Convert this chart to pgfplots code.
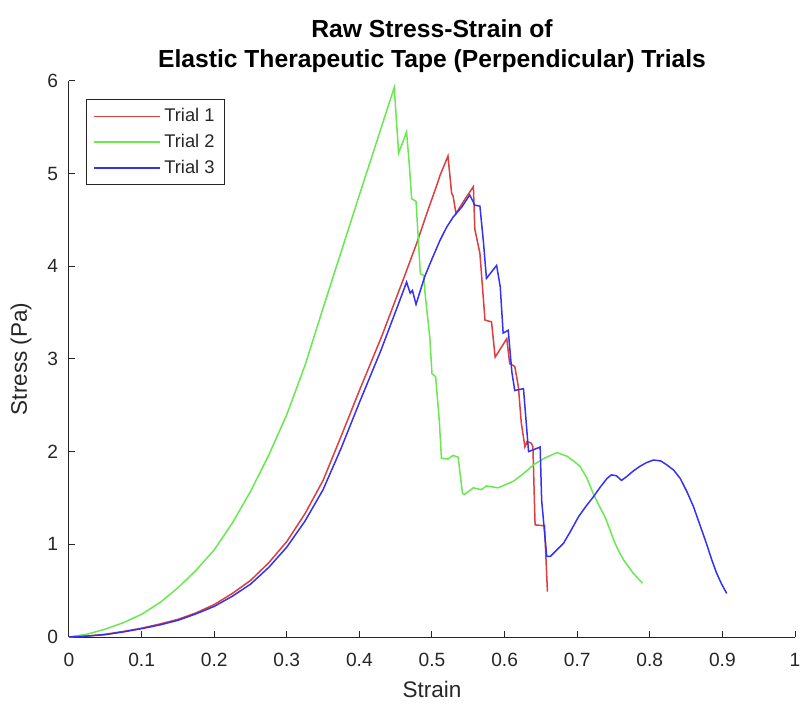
\documentclass[border=0pt]{standalone}
\usepackage{fontspec}
\setmainfont{Liberation Sans}
\usepackage{pgfplots}
\pgfplotsset{compat=1.18}
\usetikzlibrary{calc}
\definecolor{axgray}{RGB}{38,38,38}
\definecolor{tred}{RGB}{222,62,62}
\definecolor{tgreen}{RGB}{105,232,80}
\definecolor{tblue}{RGB}{50,50,240}
\begin{document}
\begin{tikzpicture}
\begin{axis}[
    width=435.6pt, height=333.6pt, scale only axis,
    xmin=0, xmax=1, ymin=0, ymax=6,
    axis x line=bottom, axis y line=left,
    axis line style={axgray, line width=0.6pt, -},
    tick align=inside, major tick length=3.5pt,
    tick style={axgray, line width=0.6pt},
    xtick={0,0.1,0.2,0.3,0.4,0.5,0.6,0.7,0.8,0.9,1},
    xticklabels={0,0.1,0.2,0.3,0.4,0.5,0.6,0.7,0.8,0.9,1},
    ytick={0,1,2,3,4,5,6},
    yticklabels={0,1,2,3,4,5,6},
    ticklabel style={font=\fontsize{11.5}{13}\selectfont, text=axgray},
    xticklabel style={yshift=-6pt},
    yticklabel style={xshift=-3pt},
    xlabel={Strain}, ylabel={Stress (Pa)},
    label style={font=\fontsize{13.5}{15}\selectfont, text=axgray},
    xlabel style={at={(axis description cs:0.5,-0.095)}, anchor=center},
    ylabel style={at={(axis description cs:-0.066,0.5)}, anchor=center},
    title={Raw Stress-Strain of\\Elastic Therapeutic Tape (Perpendicular) Trials},
    title style={align=center, font=\bfseries\fontsize{14.8}{18}\selectfont,
        at={(0.5,1)}, anchor=south, yshift=-4.5pt},
    legend style={at={(0.023,0.968)}, anchor=north west,
        draw=axgray, line width=0.6pt, fill=white,
        font=\fontsize{11}{13}\selectfont, text=axgray,
        inner xsep=4pt, inner ysep=3.5pt, row sep=2pt},
    legend cell align=left,
    legend image code/.code={\draw[#1, line width=0.9pt] (0pt,0pt) -- (40pt,0pt);},
    every axis plot/.append style={line width=0.9pt},
]
\coordinate (sw) at (rel axis cs:0,0);
\coordinate (ne) at (rel axis cs:1,1);

% Trial 1
\addplot[draw=tred] coordinates {
(0,0) (0.025,0.01) (0.05,0.03) (0.075,0.06) (0.1,0.095) (0.125,0.14)
(0.15,0.19) (0.175,0.26) (0.2,0.35) (0.225,0.47) (0.25,0.61) (0.275,0.8)
(0.3,1.03) (0.325,1.33) (0.35,1.69) (0.375,2.17) (0.4,2.66) (0.431,3.25)
(0.46,3.85) (0.479,4.25) (0.495,4.62) (0.505,4.84) (0.511,4.98) (0.522,5.19)
(0.527,4.79) (0.529,4.76) (0.533,4.57) (0.545,4.72)
(0.557,4.86) (0.559,4.40) (0.566,4.14) (0.573,3.42) (0.582,3.40) (0.587,3.02)
(0.595,3.12) (0.603,3.22) (0.607,2.95) (0.614,2.92) (0.619,2.70) (0.623,2.31)
(0.628,2.05) (0.631,2.11) (0.637,2.09) (0.639,2.05) (0.642,1.21) (0.655,1.20)
(0.659,0.49)
};
\addlegendentry{Trial 1}

% Trial 2
\addplot[draw=tgreen] coordinates {
(0,0) (0.025,0.03) (0.05,0.085) (0.075,0.155) (0.1,0.245) (0.125,0.37)
(0.15,0.53) (0.175,0.72) (0.2,0.94) (0.225,1.23) (0.25,1.57) (0.275,1.96)
(0.3,2.40) (0.325,2.93) (0.35,3.55) (0.4,4.77) (0.448,5.93) (0.454,5.22)
(0.465,5.45) (0.469,5.07) (0.472,4.73) (0.478,4.70) (0.484,3.92) (0.489,3.90)
(0.490,3.74) (0.497,3.23) (0.500,2.84) (0.505,2.81) (0.510,2.34) (0.513,1.93)
(0.522,1.92) (0.529,1.96) (0.536,1.94) (0.542,1.55) (0.545,1.54) (0.557,1.61)
(0.568,1.59) (0.575,1.63) (0.591,1.61) (0.612,1.68) (0.627,1.77) (0.640,1.86)
(0.655,1.93) (0.672,1.99) (0.686,1.95) (0.695,1.90) (0.704,1.84) (0.713,1.72)
(0.722,1.55) (0.730,1.42) (0.738,1.30) (0.745,1.16) (0.750,1.05) (0.757,0.93)
(0.764,0.83) (0.777,0.69) (0.790,0.58)
};
\addlegendentry{Trial 2}

% Trial 3
\addplot[draw=tblue] coordinates {
(0,0) (0.025,0.01) (0.05,0.025) (0.075,0.055) (0.1,0.09) (0.125,0.13)
(0.15,0.18) (0.175,0.25) (0.2,0.33) (0.225,0.44) (0.25,0.57) (0.275,0.75)
(0.3,0.97) (0.325,1.25) (0.35,1.59) (0.375,2.04) (0.4,2.53) (0.43,3.1)
(0.456,3.64) (0.465,3.83) (0.470,3.71) (0.473,3.74) (0.478,3.59) (0.490,3.89)
(0.5,4.08) (0.511,4.28) (0.52,4.42) (0.529,4.53) (0.541,4.64) (0.552,4.77)
(0.559,4.66) (0.566,4.65) (0.571,4.25) (0.575,3.87) (0.589,4.01) (0.594,3.78)
(0.598,3.28) (0.605,3.31) (0.610,2.86) (0.614,2.66) (0.626,2.68) (0.633,2.00)
(0.649,2.05) (0.651,1.48) (0.658,0.87) (0.663,0.87) (0.672,0.94) (0.681,1.01)
(0.690,1.13) (0.702,1.30) (0.712,1.41) (0.722,1.51) (0.732,1.62) (0.741,1.71)
(0.747,1.75) (0.754,1.74) (0.761,1.69) (0.768,1.73) (0.777,1.79) (0.786,1.84)
(0.795,1.88) (0.805,1.91) (0.815,1.90) (0.823,1.86) (0.833,1.80) (0.842,1.71)
(0.851,1.57) (0.860,1.41) (0.869,1.21) (0.878,1.01) (0.885,0.84) (0.892,0.69)
(0.899,0.57) (0.906,0.47)
};
\addlegendentry{Trial 3}

\node[anchor=south west, text=axgray, font=\fontsize{11}{13}\selectfont,
    inner sep=1pt, yshift=1pt] at (rel axis cs:0,1) {×10\textsuperscript{6}};
\end{axis}
\pgfresetboundingbox
\path ($(sw)+(-41.4pt,-49.2pt)$) rectangle ($(ne)+(8.4pt,48.6pt)$);
\end{tikzpicture}
\end{document}
